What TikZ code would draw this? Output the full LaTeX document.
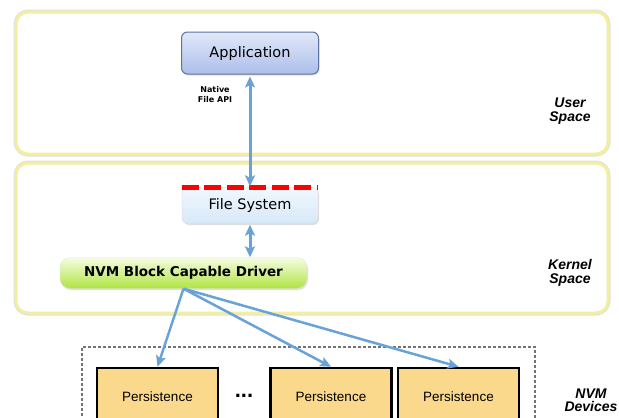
\documentclass[tikz,border=0pt]{standalone}
\usepackage{fontspec}
\usetikzlibrary{arrows.meta,shadows}
\newfontfamily\dejavu{DejaVu Sans}
\newfontfamily\arialish{Liberation Sans}
\definecolor{layeryellow}{RGB}{244,238,160}
\definecolor{linkblue}{RGB}{104,162,216}
\definecolor{appborder}{RGB}{95,115,162}
\definecolor{apptop}{RGB}{226,232,249}
\definecolor{appbottom}{RGB}{172,190,234}
\definecolor{fstop}{RGB}{242,248,254}
\definecolor{fsbottom}{RGB}{214,232,248}
\definecolor{drvtop}{RGB}{246,252,228}
\definecolor{drvbottom}{RGB}{176,228,64}
\definecolor{persistfill}{RGB}{250,217,140}
\begin{document}
\begin{tikzpicture}[x=1pt,y=-1pt,
    layer/.style={draw=layeryellow,line width=3pt,fill=white,rounded corners=12pt,
        preaction={draw=black!12,line width=5pt},minimum width=592pt},
    layerlabel/.style={font=\arialish\fontsize{14}{13.5}\selectfont\bfseries\itshape,align=center},
    softshadow/.style={drop shadow={opacity=0.25,shadow xshift=1pt,shadow yshift=-1.5pt}},
    link/.style={draw=linkblue,line width=3pt,{Stealth[length=11pt,width=10pt,inset=2.5pt]}-{Stealth[length=11pt,width=10pt,inset=2.5pt]}},
    fanlink/.style={draw=linkblue,line width=2.5pt,-{Stealth[length=11pt,width=10pt,inset=2.5pt]}},
    persistbox/.style={draw=black,line width=2.5pt,fill=persistfill,minimum width=121pt,minimum height=58pt,
        font=\arialish\fontsize{13.5}{13.5}\selectfont}]
    \clip (0,0) rectangle (619,418);
    \node[layer,minimum height=142pt] (userspace) at (312,83) {};
    \node[layer,minimum height=150pt] (kernelspace) at (312,238) {};
    \node[layerlabel] (userlabel) at (570,111) {User\\Space};
    \node[layerlabel] (kernellabel) at (570,273) {Kernel\\Space};
    \node[layerlabel] (nvmlabel) at (591,400) {NVM\\Devices};
    \node[draw=appborder,line width=1pt,top color=apptop,bottom color=appbottom,rounded corners=6pt,softshadow,
        minimum width=137pt,minimum height=42pt,font=\dejavu\fontsize{14.5}{14.5}\selectfont] (app) at (250,53) {Application};
    \node[align=center,font=\dejavu\fontsize{8}{10}\selectfont\bfseries] (api) at (215,95) {Native\\File API};
    \node[draw=black!15,top color=fstop,bottom color=fsbottom,rounded corners=6pt,softshadow,
        minimum width=136pt,minimum height=36pt,font=\dejavu\fontsize{14.5}{14.5}\selectfont] (fs) at (250,205.5) {File System};
    \draw[red,line width=5pt,dash pattern=on 17pt off 5.5pt] (fs.north west) -- (fs.north east);
    \node[draw=black!10,top color=drvtop,bottom color=drvbottom,rounded corners=10pt,softshadow,
        minimum width=247pt,minimum height=31pt,font=\dejavu\fontsize{13.5}{13.5}\selectfont\bfseries] (driver) at (183.5,273) {NVM Block Capable Driver};
    \node[draw=black!55,line width=1.5pt,dash pattern=on 3pt off 2pt,minimum width=453pt,minimum height=93pt] (devices) at (308.5,393.5) {};
    \node[persistbox] (p1) at (157.5,397) {Persistence};
    \node[persistbox] (p2) at (331,397) {Persistence};
    \node[persistbox] (p3) at (458.5,397) {Persistence};
    \node[font=\arialish\fontsize{22}{22}\selectfont\bfseries] (dots) at (244,396) {...};
    \draw[link] ([yshift=-2pt]app.south) -- ([yshift=1pt]fs.north);
    \draw[link] ([yshift=-1pt]fs.south) -- (fs.south |- driver.north);
    \draw[fanlink] (driver.south) -- (p1.north);
    \draw[fanlink] (driver.south) -- (p2.north);
    \draw[fanlink] (driver.south) -- (p3.north);
\end{tikzpicture}
\end{document}
